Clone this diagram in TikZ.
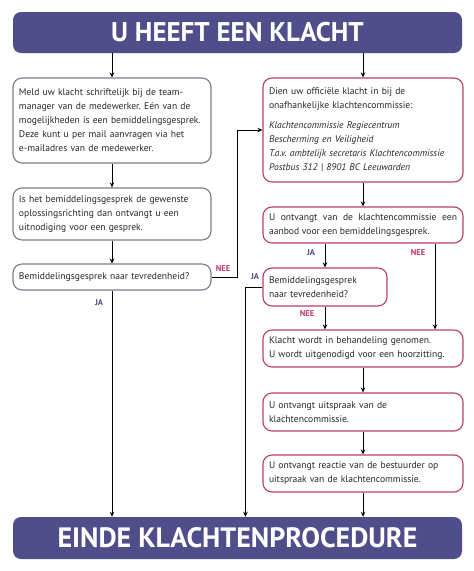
\documentclass[tikz,border=0pt]{standalone}
\usepackage{fontspec}
\setmainfont{PT Sans}
\usepackage{xcolor}
\usetikzlibrary{positioning,calc,arrows.meta}
\frenchspacing

\definecolor{bannerc}{HTML}{4F4E8A}
\definecolor{grayc}{HTML}{7C7B8C}
\definecolor{magc}{HTML}{BC3B6E}
\definecolor{textc}{HTML}{26262B}
\definecolor{jac}{HTML}{4F4E7E}

\begin{document}
\begin{tikzpicture}[
    x=1pt, y=-1pt,
    font=\fontsize{9.6}{14}\selectfont,
    banner/.style={rectangle, rounded corners=8pt, fill=bannerc, text=white,
        minimum width=449pt, font=\fontsize{27}{30}\selectfont\bfseries},
    lbox/.style={rectangle, draw=grayc, line width=1.1pt, rounded corners=9pt,
        text=textc, text width=186pt, inner xsep=6pt, align=left},
    rbox/.style={lbox, draw=magc, text width=188pt},
    arr/.style={-{Stealth[length=5pt,width=4.5pt]}, line width=0.9pt},
    ja/.style={text=jac, font=\fontsize{8.5}{10}\selectfont\bfseries},
    nee/.style={text=magc, font=\fontsize{8.5}{10}\selectfont\bfseries}
]
    \useasboundingbox (0,0) rectangle (474,571);

    % banners
    \node[banner, minimum height=41pt] (start) at (237.5,32.5) {U HEEFT EEN KLACHT};
    \node[banner, minimum height=42pt, font=\fontsize{28}{30}\selectfont\bfseries] (eind) at (237.5,538) {EINDE KLACHTENPROCEDURE};

    % left column
    \node[lbox, minimum height=85pt] (L1) at (112,120.5) {Meld uw klacht schriftelijk bij de team-\\manager van de medewerker. Eén van de\\mogelijkheden is een bemiddelingsgesprek.\\Deze kunt u per mail aanvragen via het\\e-mailadres van de medewerker.};
    \node[lbox, minimum height=52pt] (L2) at (112,214) {Is het bemiddelingsgesprek de gewenste\\oplossingsrichting dan ontvangt u een\\uitnodiging voor een gesprek.};
    \node[lbox, minimum height=26pt] (L3) at (112,277) {Bemiddelingsgesprek naar tevredenheid?};

    % right column
    \node[rbox, minimum height=104pt] (R1) at (363,130) {Dien uw officiële klacht in bij de\\onafhankelijke klachtencommissie:\\[6pt]
        \textit{Klachtencommissie Regiecentrum}\\\textit{Bescherming en Veiligheid}\\\textit{T.a.v. ambtelijk secretaris Klachtencommissie}\\\textit{Postbus 312 | 8901 BC Leeuwarden}};
    \node[rbox, minimum height=36pt, align=justify] (R2) at (363,225) {U ontvangt van de klachtencommissie een\linebreak aanbod voor een bemiddelingsgesprek.};
    \node[rbox, text width=112pt, minimum height=38pt] (R3) at (325,287) {Bemiddelingsgesprek\\naar tevredenheid?};
    \node[rbox, minimum height=37pt] (R4) at (363,348.5) {Klacht wordt in behandeling genomen.\\U wordt uitgenodigd voor een hoorzitting.};
    \node[rbox, minimum height=38pt] (R5) at (363,412) {U ontvangt uitspraak van de\\klachtencommissie.};
    \node[rbox, minimum height=37pt] (R6) at (363,473.5) {U ontvangt reactie van de bestuurder op\\uitspraak van de klachtencommissie.};

    % connectors left
    \draw[arr] (L1.north |- start.south) -- (L1.north);
    \draw[arr] (L1.south) -- (L2.north);
    \draw[arr] (L2.south) -- (L3.north);
    \draw[arr] (L3.south) -- (L3.south |- eind.north);
    \node[ja] at (99,303) {JA};
    \draw[arr] (L3.east) -- ++(26,0) |- (R1.west);
    \node[nee] at (223,269) {NEE};

    % connectors right
    \draw[arr] (R1.north |- start.south) -- (R1.north);
    \draw[arr] (R1.south) -- (R2.north);
    \draw[arr] (R2.south -| R3.north) -- (R3.north);
    \node[ja] at (311,253) {JA};
    \draw[arr] ([xshift=72pt]R2.south) -- ([xshift=72pt]R2.south |- R4.north);
    \node[nee] at (418,253) {NEE};
    \draw[arr] (R3.south) -- (R3.south |- R4.north);
    \node[nee] at (307,314) {NEE};
    \draw[arr] (R3.west) -- ++(-17,0) coordinate (jR) -- (jR |- eind.north);
    \node[ja] at (255,277) {JA};
    \draw[arr] (R4.south) -- (R5.north);
    \draw[arr] (R5.south) -- (R6.north);
    \draw[arr] (R6.south) -- (R6.south |- eind.north);

\end{tikzpicture}
\end{document}
